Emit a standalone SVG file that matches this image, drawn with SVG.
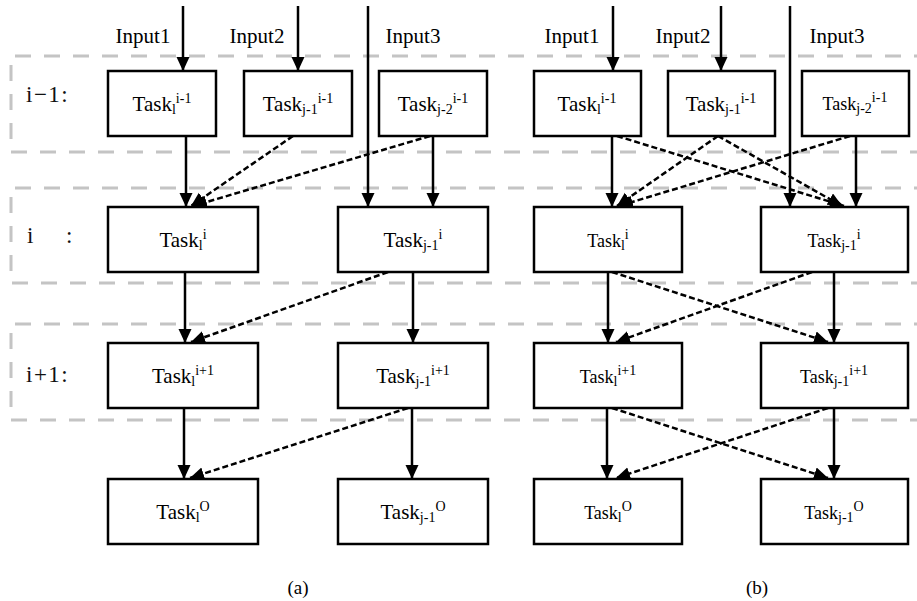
<svg xmlns="http://www.w3.org/2000/svg" width="917" height="601" viewBox="0 0 917 601" font-family="Liberation Serif, Times New Roman, Times, serif">
<defs>
<style>
.frame{fill:none;stroke:#c4c4c4;stroke-width:3;stroke-dasharray:16 13}
.box{fill:#fff;stroke:#000;stroke-width:2.5}
.t{font-size:21px;text-anchor:middle}
.ts{font-size:18px}
.s{font-size:14px}
.lbl{font-size:21px}
.row{font-size:23px;fill:#111;letter-spacing:1.5px}
.solid{stroke:#000;stroke-width:2.5;fill:none;marker-end:url(#ah)}
.dash{stroke:#000;stroke-width:2.5;fill:none;stroke-dasharray:6 3;marker-end:url(#ah)}
</style>
<marker id="ah" markerUnits="userSpaceOnUse" markerWidth="14" markerHeight="14" refX="14" refY="6.5" orient="auto">
<path d="M0,0 L14,6.5 L0,13 z" fill="#000"/>
</marker>
</defs>
<rect width="917" height="601" fill="#fff"/>
<g id="frames">
<path class="frame" d="M930,56 H11 V152 H930"/>
<path class="frame" d="M930,188 H11 V283 H930"/>
<path class="frame" d="M930,324 H11 V420 H930"/>
</g>
<g id="row-labels">
<text class="row" x="26" y="102">i−1:</text>
<text class="row" y="243"><tspan x="27">i</tspan><tspan x="66">:</tspan></text>
<text class="row" x="26" y="382">i+1:</text>
</g>
<g id="inputs-labels">
<text class="lbl" x="143" y="43" text-anchor="middle">Input1</text>
<text class="lbl" x="257" y="43" text-anchor="middle">Input2</text>
<text class="lbl" x="413" y="43" text-anchor="middle">Input3</text>
<text class="lbl" x="572" y="43" text-anchor="middle">Input1</text>
<text class="lbl" x="683" y="43" text-anchor="middle">Input2</text>
<text class="lbl" x="837" y="43" text-anchor="middle">Input3</text>
</g>
<g id="connectors">
<line class="solid" x1="183" y1="6" x2="183" y2="71"/>
<line class="solid" x1="298" y1="6" x2="298" y2="71"/>
<line class="solid" x1="368" y1="6" x2="368" y2="207"/>
<line class="solid" x1="186" y1="136" x2="186" y2="207"/>
<line class="dash" x1="293" y1="136" x2="191" y2="206"/>
<line class="dash" x1="430" y1="136" x2="193" y2="206"/>
<line class="solid" x1="433" y1="136" x2="433" y2="207"/>
<line class="solid" x1="185" y1="272" x2="185" y2="343"/>
<line class="dash" x1="388" y1="272" x2="191" y2="342"/>
<line class="solid" x1="413" y1="272" x2="413" y2="343"/>
<line class="solid" x1="184" y1="408" x2="184" y2="479"/>
<line class="dash" x1="408" y1="408" x2="190" y2="478"/>
<line class="solid" x1="412" y1="408" x2="412" y2="479"/>
<line class="solid" x1="613" y1="6" x2="613" y2="71"/>
<line class="solid" x1="721" y1="6" x2="721" y2="71"/>
<line class="solid" x1="790" y1="6" x2="790" y2="207"/>
<line class="solid" x1="612" y1="136" x2="612" y2="207"/>
<line class="dash" x1="617" y1="136" x2="844" y2="206"/>
<line class="dash" x1="718" y1="136" x2="617" y2="206"/>
<line class="dash" x1="718" y1="136" x2="842" y2="206"/>
<line class="dash" x1="850" y1="136" x2="619" y2="206"/>
<line class="solid" x1="856" y1="136" x2="856" y2="207"/>
<line class="solid" x1="608" y1="272" x2="608" y2="343"/>
<line class="dash" x1="612" y1="272" x2="828" y2="342"/>
<line class="dash" x1="812" y1="272" x2="616" y2="342"/>
<line class="solid" x1="834" y1="272" x2="834" y2="343"/>
<line class="solid" x1="607" y1="408" x2="607" y2="479"/>
<line class="dash" x1="612" y1="408" x2="828" y2="478"/>
<line class="dash" x1="828" y1="408" x2="616" y2="478"/>
<line class="solid" x1="834" y1="408" x2="834" y2="479"/>
</g>
<g id="a-task1-im1"><rect class="box" x="108" y="71" width="108" height="65"/><text class="t" x="162" y="111">Task<tspan class="s" dy="3">l</tspan><tspan class="s" dy="-11">i-1</tspan></text></g>
<g id="a-taskj1-im1"><rect class="box" x="244" y="71" width="108" height="65"/><text class="t" x="298" y="111">Task<tspan class="s" dy="3">j-1</tspan><tspan class="s" dy="-11">i-1</tspan></text></g>
<g id="a-taskj2-im1"><rect class="box" x="379" y="71" width="108" height="65"/><text class="t" x="433" y="111">Task<tspan class="s" dy="3">j-2</tspan><tspan class="s" dy="-11">i-1</tspan></text></g>
<g id="a-task1-i"><rect class="box" x="108" y="207" width="150" height="65"/><text class="t" x="183" y="247">Task<tspan class="s" dy="3">l</tspan><tspan class="s" dy="-11">i</tspan></text></g>
<g id="a-taskj1-i"><rect class="box" x="338" y="207" width="150" height="65"/><text class="t" x="413" y="247">Task<tspan class="s" dy="3">j-1</tspan><tspan class="s" dy="-11">i</tspan></text></g>
<g id="a-task1-ip1"><rect class="box" x="108" y="343" width="150" height="65"/><text class="t" x="183" y="383">Task<tspan class="s" dy="3">l</tspan><tspan class="s" dy="-11">i+1</tspan></text></g>
<g id="a-taskj1-ip1"><rect class="box" x="338" y="343" width="150" height="65"/><text class="t" x="413" y="383">Task<tspan class="s" dy="3">j-1</tspan><tspan class="s" dy="-11">i+1</tspan></text></g>
<g id="a-task1-o"><rect class="box" x="108" y="479" width="150" height="65"/><text class="t" x="183" y="519">Task<tspan class="s" dy="3">l</tspan><tspan class="s" dy="-11">O</tspan></text></g>
<g id="a-taskj1-o"><rect class="box" x="338" y="479" width="150" height="65"/><text class="t" x="413" y="519">Task<tspan class="s" dy="3">j-1</tspan><tspan class="s" dy="-11">O</tspan></text></g>
<g id="b-task1-im1"><rect class="box" x="534" y="71" width="107" height="65"/><text class="t" x="587" y="111">Task<tspan class="s" dy="3">l</tspan><tspan class="s" dy="-11">i-1</tspan></text></g>
<g id="b-taskj1-im1"><rect class="box" x="668" y="71" width="107" height="65"/><text class="t" x="721" y="111">Task<tspan class="s" dy="3">j-1</tspan><tspan class="s" dy="-11">i-1</tspan></text></g>
<g id="b-taskj2-im1"><rect class="box" x="802" y="71" width="107" height="65"/><text class="t ts" x="855" y="110">Task<tspan class="s" dy="3">j-2</tspan><tspan class="s" dy="-11">i-1</tspan></text></g>
<g id="b-task1-i"><rect class="box" x="534" y="207" width="148" height="65"/><text class="t ts" x="608" y="247">Task<tspan class="s" dy="3">l</tspan><tspan class="s" dy="-11">i</tspan></text></g>
<g id="b-taskj1-i"><rect class="box" x="761" y="207" width="147" height="65"/><text class="t ts" x="834" y="247">Task<tspan class="s" dy="3">j-1</tspan><tspan class="s" dy="-11">i</tspan></text></g>
<g id="b-task1-ip1"><rect class="box" x="534" y="343" width="148" height="65"/><text class="t ts" x="608" y="383">Task<tspan class="s" dy="3">l</tspan><tspan class="s" dy="-11">i+1</tspan></text></g>
<g id="b-taskj1-ip1"><rect class="box" x="761" y="343" width="147" height="65"/><text class="t ts" x="834" y="383">Task<tspan class="s" dy="3">j-1</tspan><tspan class="s" dy="-11">i+1</tspan></text></g>
<g id="b-task1-o"><rect class="box" x="534" y="479" width="148" height="65"/><text class="t ts" x="608" y="519">Task<tspan class="s" dy="3">l</tspan><tspan class="s" dy="-11">O</tspan></text></g>
<g id="b-taskj1-o"><rect class="box" x="761" y="479" width="147" height="65"/><text class="t ts" x="834" y="519">Task<tspan class="s" dy="3">j-1</tspan><tspan class="s" dy="-11">O</tspan></text></g>
<g id="captions">
<text class="lbl" x="298" y="594" text-anchor="middle" style="font-size:19px">(a)</text>
<text class="lbl" x="757" y="594" text-anchor="middle" style="font-size:19px">(b)</text>
</g>
</svg>
